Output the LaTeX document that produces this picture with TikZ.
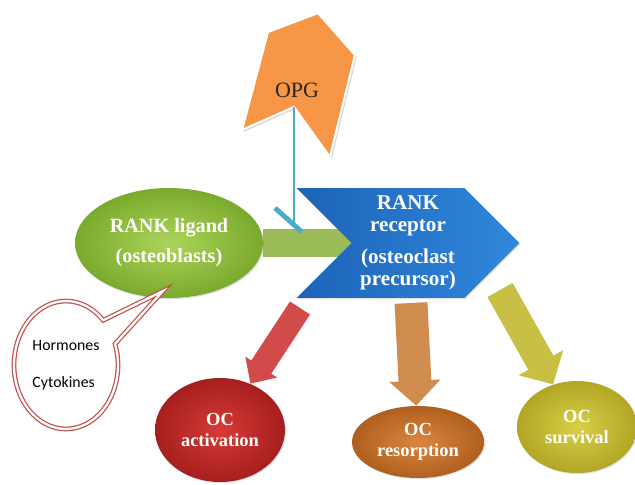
\documentclass[tikz,border=0pt]{standalone}
\usepackage{fontspec}
\setmainfont{Liberation Serif}
\newfontfamily\calibrifont{Carlito}
\usetikzlibrary{positioning, arrows.meta, shapes.geometric, shapes.symbols, shapes.callouts, shadows, backgrounds}
\definecolor{opgorange}{HTML}{F79646}
\definecolor{opgteal}{HTML}{4BACC6}
\definecolor{bandgreen}{HTML}{9BBB59}
\definecolor{callred}{HTML}{C0504D}
\definecolor{recdark}{HTML}{1D63B8}
\definecolor{reclight}{HTML}{2F88DC}
\tikzset{%
  oval/.style={ellipse, inner sep=0mm, align=center, text=white,
    font=\fontsize{10.5}{12}\selectfont\bfseries,
    drop shadow={opacity=0.25, shadow xshift=0.6pt, shadow yshift=-0.6pt}},
  chevron/.style={signal, signal from=west, signal to=east, inner sep=0mm,
    minimum width=4.46cm, minimum height=2.2cm, align=center, text=white,
    left color=recdark, right color=reclight,
    font=\fontsize{12}{12.5}\selectfont\bfseries,
    drop shadow={opacity=0.25, shadow xshift=0.6pt, shadow yshift=-0.6pt}},
  band/.style={line width=15.9pt, draw=bandgreen},
  inhibit/.style={line width=1.7pt, draw=opgteal},
  inhibitbar/.style={line width=2.8pt, draw=opgteal},
  blockarrow/.style n args={3}{line width=#1, -{Triangle[width=#2, length=#3]}},
  bubble/.style={ellipse callout, inner sep=0mm, align=left,
    minimum width=2.08cm, minimum height=2.56cm, callout pointer arc=25,
    draw=callred, double=white, double distance=1.3pt, line width=0.7pt,
    font=\calibrifont\fontsize{9}{11}\selectfont}
}
\begin{document}
\begin{tikzpicture}[x=0.02cm, y=-0.02cm]
  \useasboundingbox (0,0) rectangle (635,484);

  % OPG
  \coordinate (opgnotch) at (294,107);
  \fill[opgorange, draw=white, line width=1.2pt,
    drop shadow={opacity=0.35, shadow xshift=1pt, shadow yshift=-1pt}]
    (268,32) -- (318,13) -- (355,55) -- (330,157) -- (opgnotch) -- (242,130) -- cycle;
  \node[font=\fontsize{12.5}{14}\selectfont, text=black!85] (opg) at (297,90) {OPG};

  % ligand and receptor
  \node[oval, minimum width=3.76cm, minimum height=2.2cm,
    inner color={rgb,255:red,172;green,212;blue,92}, outer color={rgb,255:red,122;green,170;blue,44},
    font=\fontsize{11.5}{12}\selectfont\bfseries] (lig) at (169,243) {RANK ligand\\[5pt](osteoblasts)};
  \node[chevron] (rec) at (408,243) {RANK\\receptor\\[6pt](osteoclast\\precursor)};
  \begin{scope}[on background layer]
    \draw[band] (lig) -- (rec.center);
  \end{scope}

  \coordinate (opgbar) at (294,226);
  \draw[inhibit] (opgnotch) -- (opgbar);
  \draw[inhibitbar] (opgbar) ++(-19,-18) -- ++(27,24);

  % outcomes
  \node[oval, minimum width=2.6cm, minimum height=2.08cm,
    inner color={rgb,255:red,216;green,58;blue,53}, outer color={rgb,255:red,165;green,31;blue,31}] (act) at (220,430) {OC\\activation};
  \node[oval, minimum width=2.64cm, minimum height=1.44cm,
    inner color={rgb,255:red,217;green,133;blue,63}, outer color={rgb,255:red,176;green,96;blue,30}] (res) at (418,442) {OC\\resorption};
  \node[oval, minimum width=2.4cm, minimum height=1.84cm,
    inner color={rgb,255:red,216;green,207;blue,69}, outer color={rgb,255:red,178;green,166;blue,36}] (surv) at (577,427) {OC\\survival};

  \coordinate (actfrom) at (300,308);
  \coordinate (resfrom) at (411,303);
  \coordinate (survfrom) at (500,290);
  \draw[blockarrow={13.6pt}{21pt}{11.3pt}, draw={rgb,255:red,210;green,75;blue,75}] (actfrom) -- (act);
  \draw[blockarrow={18.7pt}{28.3pt}{14.2pt}, draw={rgb,255:red,208;green,139;blue,78}] (resfrom) -- (res);
  \draw[blockarrow={16.4pt}{28.3pt}{14.2pt}, draw={rgb,255:red,200;green,191;blue,69}] (survfrom) -- (surv);

  % callout
  \node[bubble, callout absolute pointer={(163,291)}] (horm) at (66,365) {Hormones\\[10pt]Cytokines};
\end{tikzpicture}
\end{document}
